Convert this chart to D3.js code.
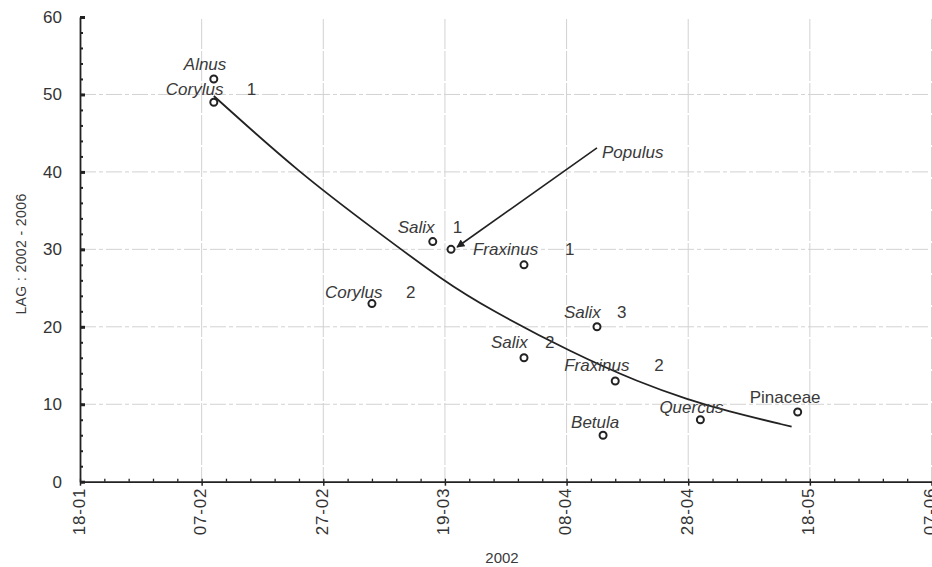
<!DOCTYPE html>
<html>
<head>
<meta charset="utf-8">
<script src="https://cdn.jsdelivr.net/npm/d3@7"></script>
<style>
    body { margin: 0; background: #fff; }
    svg { display: block; font-family: "Liberation Sans", Arial, sans-serif; }
    .grid line { stroke: #d2d2d2; stroke-width: 1; }
    .axis path, .axis line { stroke: #222; }
    .axis text { fill: #333; font-size: 17px; }
    .lbl { fill: #3a3a3a; font-size: 17px; }
</style>
</head>
<body>
<svg width="932" height="567"></svg>
<script>
// ==========
// DATA
// ==========
var xTicks = ["2002-01-18", "2002-02-07", "2002-02-27", "2002-03-19", "2002-04-08", "2002-04-28", "2002-05-18", "2002-06-07"];
var yTicks = [0, 10, 20, 30, 40, 50, 60];

// observed taxa
var taxa    = ["Alnus", "Corylus", "Salix", "Populus", "Fraxinus", "Corylus", "Salix", "Salix", "Fraxinus", "Betula", "Quercus", "Pinaceae"];
var taxaNum = ["", "1", "1", "", "1", "2", "3", "2", "2", "", "", ""];
var dates   = ["2002-02-09", "2002-02-09", "2002-03-17", "2002-03-20", "2002-04-01", "2002-03-07", "2002-04-13", "2002-04-01", "2002-04-16", "2002-04-14", "2002-04-30", "2002-05-16"];
var lags    = [52, 49, 31, 30, 28, 23, 20, 16, 13, 6, 8, 9];

// fitted curve
var fitDates = ["2002-02-09", "2002-02-23", "2002-03-08", "2002-03-19", "2002-03-26", "2002-04-09", "2002-04-20", "2002-04-28", "2002-05-04", "2002-05-15"];
var fitLags  = [49.8, 39.9, 32.2, 25.8, 22.4, 16.6, 12.8, 10.6, 9.2, 7.1];

// arrow pointing at Populus
var arrowDates = ["2002-04-13", "2002-03-21"];
var arrowLags  = [43.1, 30.3];

// ====================
// LABEL LAYOUT (px)
// ====================
var labelDx  = [-30, -48, -35, 0, -51, -47, -33, -33, -51, -32, -41, -48];
var labelDy  = [-9, -7, -9, 0, -10, -6, -9, -10, -10, -7, -7, -9];
var numDx    = [0, 33, 20, 0, 41, 34, 20, 21, 39, 0, 0, 0];

// ########
// # MAIN #
// ########
var parse = d3.timeParse("%Y-%m-%d");
var svg = d3.select("svg");

var x = d3.scaleTime()
    .domain([parse(xTicks[0]), parse(xTicks[xTicks.length - 1])])
    .range([80, 931.5]);
var y = d3.scaleLinear().domain([0, 60]).range([481.7, 17]);

// grid
var grid = svg.append("g").attr("class", "grid");
grid.selectAll("line.h")
    .data(yTicks.filter(function (d) { return d > 0 && d < 60; }))
    .enter().append("line")
    .attr("class", "h")
    .attr("x1", x.range()[0]).attr("x2", x.range()[1])
    .attr("y1", function (d) { return y(d); })
    .attr("y2", function (d) { return y(d); })
    .attr("stroke-dasharray", "16,3,4,3");
grid.selectAll("line.v")
    .data(xTicks.slice(1))
    .enter().append("line")
    .attr("class", "v")
    .attr("x1", function (d) { return x(parse(d)); })
    .attr("x2", function (d) { return x(parse(d)); })
    .attr("y1", 19).attr("y2", y(0))
    .attr("stroke-dasharray", "30,2");

// minor ticks
var minorX = d3.timeDay.range(parse(xTicks[0]), parse(xTicks[xTicks.length - 1]), 4);
svg.append("g")
    .attr("class", "axis")
    .attr("transform", "translate(0," + y(0) + ")")
    .call(d3.axisBottom(x).tickValues(minorX).tickSize(-3).tickFormat(""))
    .call(function (g) { g.select(".domain").remove(); })
    .selectAll("line").attr("stroke-width", 1.3);

svg.append("g")
    .attr("class", "axis")
    .attr("transform", "translate(80,0)")
    .call(d3.axisLeft(y).tickValues(d3.range(0, 61, 2)).tickSize(-3).tickFormat(""))
    .call(function (g) { g.select(".domain").remove(); })
    .selectAll("line").attr("stroke-width", 2);

// x axis
var xAxis = svg.append("g")
    .attr("class", "axis")
    .attr("transform", "translate(0," + y(0) + ")")
    .call(d3.axisBottom(x)
        .tickValues(xTicks.map(parse))
        .tickFormat(d3.timeFormat("%d-%m"))
        .tickSize(4)
        .tickSizeOuter(0));
xAxis.select(".domain").attr("stroke-width", 1.8);
xAxis.selectAll("line").attr("stroke-width", 1.5);
xAxis.selectAll("text")
    .attr("text-anchor", "end")
    .attr("transform", "rotate(-90)")
    .attr("x", -6)
    .attr("y", 0)
    .attr("dy", "4")
    .style("letter-spacing", "0.8px");

// y axis
var yAxis = svg.append("g")
    .attr("class", "axis")
    .attr("transform", "translate(80,0)")
    .call(d3.axisLeft(y)
        .tickValues(yTicks)
        .tickSize(-5)
        .tickSizeOuter(0)
        .tickPadding(18));
yAxis.select(".domain").attr("stroke-width", 1.8);
yAxis.selectAll("line").attr("stroke-width", 3);

// axis titles
svg.append("text")
    .attr("class", "lbl")
    .attr("x", 502).attr("y", 563)
    .attr("text-anchor", "middle")
    .style("font-size", "15px")
    .text("2002");

svg.append("text")
    .attr("class", "lbl")
    .attr("transform", "translate(26,254) rotate(-90)")
    .attr("text-anchor", "middle")
    .style("font-size", "14px")
    .style("letter-spacing", "0.4px")
    .text("LAG : 2002 - 2006");

// fitted curve
var fit = fitDates.map(function (d, i) { return [parse(d), fitLags[i]]; });
svg.append("path")
    .datum(fit)
    .attr("fill", "none")
    .attr("stroke", "#222")
    .attr("stroke-width", 1.8)
    .attr("d", d3.line()
        .x(function (d) { return x(d[0]); })
        .y(function (d) { return y(d[1]); })
        .curve(d3.curveBasis));

// arrow
svg.append("defs").append("marker")
    .attr("id", "head")
    .attr("viewBox", "0 0 10 10")
    .attr("refX", 9).attr("refY", 5)
    .attr("markerWidth", 10).attr("markerHeight", 8)
    .attr("markerUnits", "userSpaceOnUse")
    .attr("orient", "auto")
    .append("path")
    .attr("d", "M0,0L10,5L0,10Z")
    .attr("fill", "#222");

svg.append("line")
    .attr("x1", x(parse(arrowDates[0]))).attr("y1", y(arrowLags[0]))
    .attr("x2", x(parse(arrowDates[1]))).attr("y2", y(arrowLags[1]))
    .attr("stroke", "#222")
    .attr("stroke-width", 1.6)
    .attr("marker-end", "url(#head)");

svg.append("text")
    .attr("class", "lbl")
    .attr("x", x(parse(arrowDates[0])) + 5)
    .attr("y", y(arrowLags[0]) + 10)
    .style("font-style", "italic")
    .text(taxa[3]);

// points
svg.append("g")
    .selectAll("circle")
    .data(dates)
    .enter().append("circle")
    .attr("cx", function (d) { return x(parse(d)); })
    .attr("cy", function (d, i) { return y(lags[i]); })
    .attr("r", 3.5)
    .attr("fill", "#fff")
    .attr("stroke", "#222")
    .attr("stroke-width", 2);

// point labels
var labels = svg.append("g");
dates.forEach(function (d, i) {
    if (i === 3) return;
    var px = x(parse(d)), py = y(lags[i]);
    labels.append("text")
        .attr("class", "lbl")
        .attr("x", px + labelDx[i])
        .attr("y", py + labelDy[i])
        .style("font-style", taxa[i] === "Pinaceae" ? "normal" : "italic")
        .text(taxa[i]);
    if (taxaNum[i] !== "") {
        labels.append("text")
            .attr("class", "lbl")
            .attr("x", px + numDx[i])
            .attr("y", py + labelDy[i])
            .text(taxaNum[i]);
    }
});
</script>
</body>
</html>
